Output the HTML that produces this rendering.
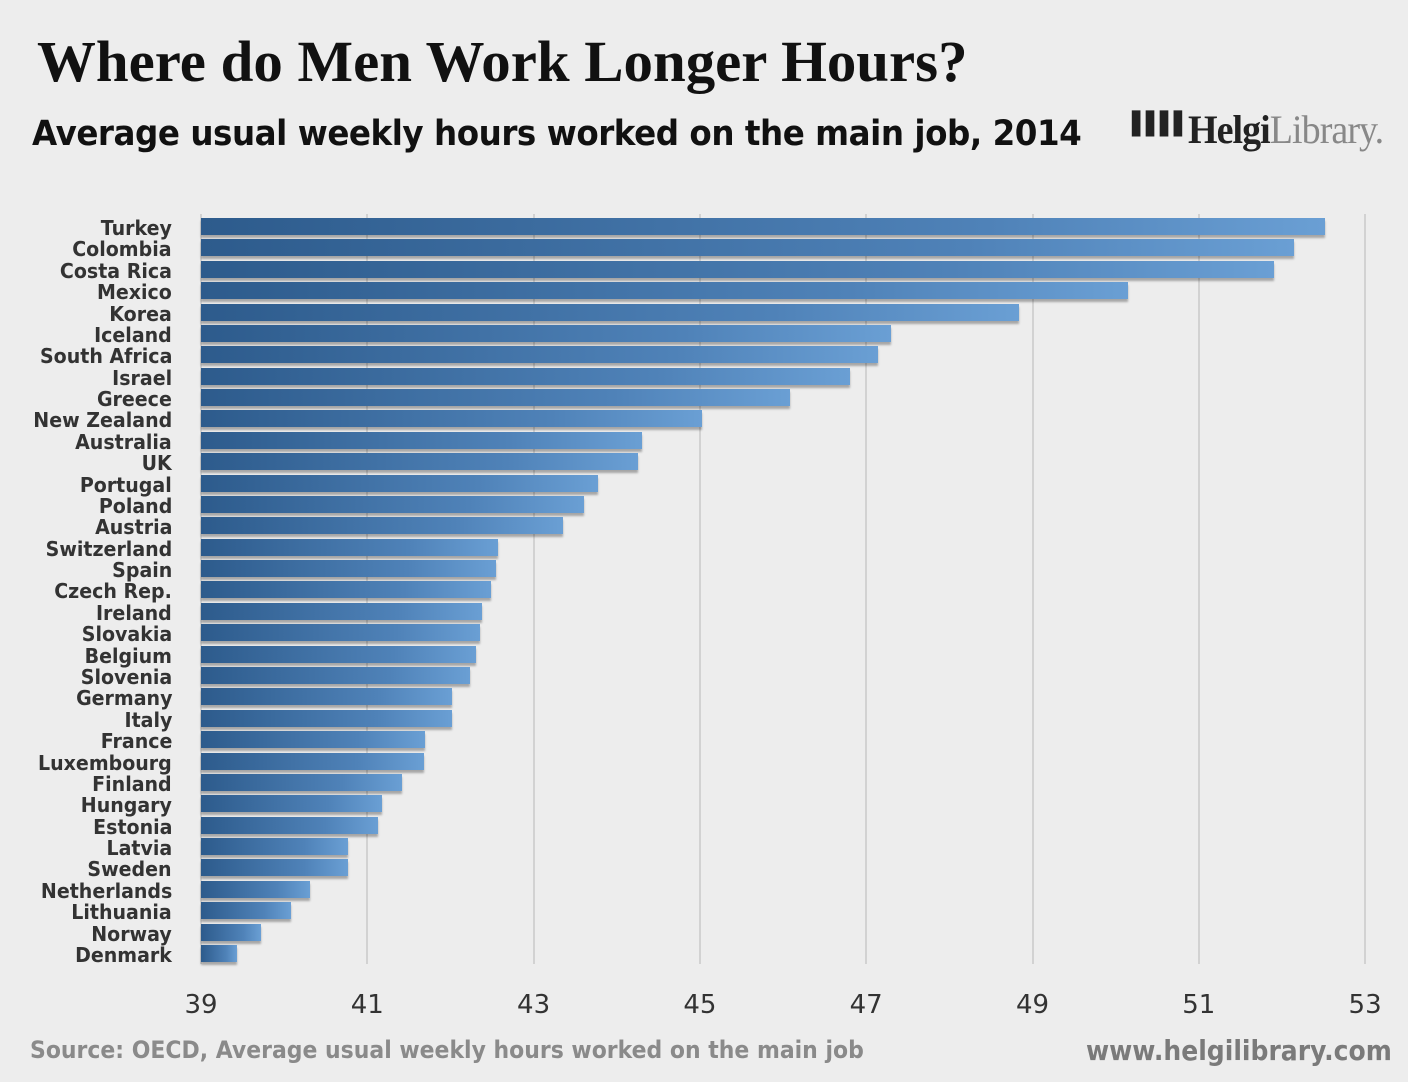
<!DOCTYPE html>
<html><head><meta charset="utf-8"><style>
body{margin:0;width:1408px;height:1082px;background:#ededed;position:relative;overflow:hidden;font-family:"DejaVu Sans","Liberation Sans",sans-serif}
.t{position:absolute;white-space:nowrap;transform-origin:left top}
.g{position:absolute;top:214px;width:2px;height:750px;background:#d2d2d2}
.b{position:absolute;left:201px;height:17px;background:linear-gradient(90deg,#2d5b8c,#4f82b8 70%,#6a9fd4);box-shadow:0 3px 2px rgba(0,0,0,0.3)}
.l{position:absolute;right:1236px;font-size:20px;color:#333;font-weight:bold;line-height:21px;text-align:right;transform:scaleX(0.95);transform-origin:right top}
.x{position:absolute;top:990px;font-size:26px;color:#333;width:80px;text-align:center}
</style></head><body>
<div class="t" style="left:37px;top:28px;font-family:'Liberation Serif',serif;font-weight:bold;font-size:58px;color:#111;transform:scaleX(1.015)">Where do Men Work Longer Hours?</div>
<div class="t" style="left:32px;top:114px;font-size:35px;color:#111;font-weight:bold;letter-spacing:-0.5px;transform:scaleX(0.93)">Average usual weekly hours worked on the main job, 2014</div>
<div class="t" style="left:1132px;top:112px;font-size:22px;color:#222;letter-spacing:-3px">▌▌▌▌</div>
<div class="t" style="left:1188px;top:106px;font-family:'Liberation Serif',serif;font-size:40px;color:#222;letter-spacing:-1px;transform:scaleX(0.95)"><b>Helgi</b><span style="color:#888">Library.</span></div>
<div id="c"></div>
<div class="t" style="left:30px;top:1036px;font-size:24px;color:#8a8a8a;font-weight:bold;transform:scaleX(0.915)">Source: OECD, Average usual weekly hours worked on the main job</div>
<div class="t" style="left:1086px;top:1034px;font-size:28px;color:#7a7a7a;font-weight:bold;transform:scaleX(0.895)">www.helgilibrary.com</div>
<script>
var n=["Turkey","Colombia","Costa Rica","Mexico","Korea","Iceland","South Africa","Israel","Greece","New Zealand","Australia","UK","Portugal","Poland","Austria","Switzerland","Spain","Czech Rep.","Ireland","Slovakia","Belgium","Slovenia","Germany","Italy","France","Luxembourg","Finland","Hungary","Estonia","Latvia","Sweden","Netherlands","Lithuania","Norway","Denmark"];
var e=[1325,1294,1274,1128,1019,891,878,850,790,702,642,638,598,584,563,498,496,491,482,480,476,470,452,452,425,424,402,382,378,348,348,310,291,261,237];
var h="";
for(var k=0;k<8;k++){var x=201+k*166.3;h+='<div class="g" style="left:'+(x-1)+'px"></div><div class="x" style="left:'+(x-40)+'px">'+(39+2*k)+'</div>';}
for(var i=0;i<35;i++){var y=218+i*21.38;h+='<div class="b" style="top:'+y+'px;width:'+(e[i]-201)+'px"></div><div class="l" style="top:'+y+'px">'+n[i]+'</div>';}
document.getElementById("c").innerHTML=h;
</script>
</body></html>
